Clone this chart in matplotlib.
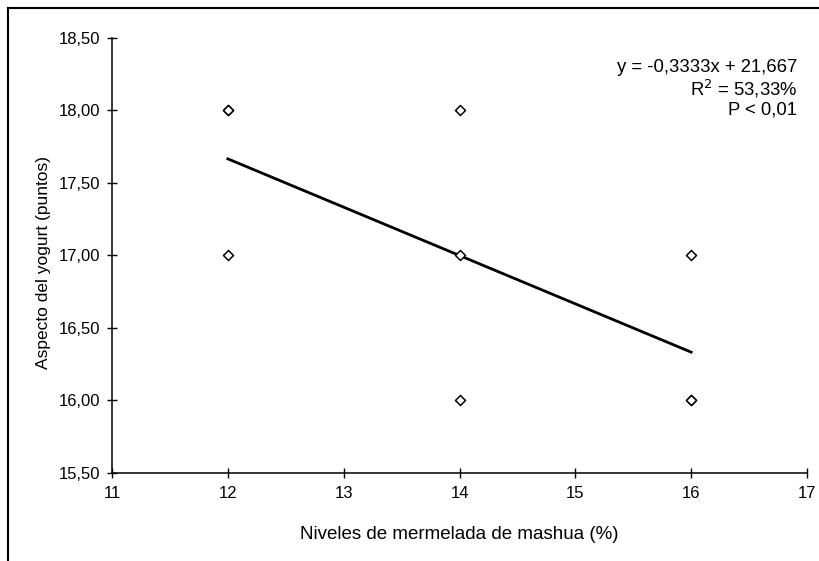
import matplotlib
matplotlib.use("Agg")
import matplotlib.pyplot as plt
from matplotlib.lines import Line2D
from matplotlib.ticker import FuncFormatter
import numpy as np

plt.rcParams['font.family'] = ['Liberation Sans', 'DejaVu Sans']

x_levels = [12, 12, 12, 14, 14, 14, 16, 16, 16]
aspecto = [18, 18, 17, 18, 17, 16, 17, 16, 16]
x_ticks = [11, 12, 13, 14, 15, 16, 17]
y_ticks = [15.5, 16.0, 16.5, 17.0, 17.5, 18.0, 18.5]
eq_lines = ["y = -0,3333x + 21,667", "R$^2$ = 53,33%", "P < 0,01"]

fig = plt.figure(figsize=(8.2, 5.61), dpi=100)
ax = fig.add_axes([112/820, 1-473/561, (807-112)/820, (473-38)/561])

ax.scatter(x_levels, aspecto, marker='D', s=26, facecolors='white',
           edgecolors='black', linewidths=1.1, zorder=3)

slope, intercept = np.polyfit(x_levels, aspecto, 1)
xf = np.array([min(x_levels), max(x_levels)])
ax.plot(xf, slope*xf + intercept, color='black', lw=2.0, zorder=2)

ax.set_xlim(11, 17)
ax.set_ylim(15.5, 18.5)
ax.set_xticks(x_ticks)
ax.set_yticks(y_ticks)
ax.yaxis.set_major_formatter(FuncFormatter(lambda v, p: f"{v:.2f}".replace('.', ',')))
ax.tick_params(direction='inout', length=7, width=1, labelsize=12, colors='black')
ax.tick_params(axis='y', pad=5)
ax.tick_params(axis='x', pad=6)
for s in ['top', 'right']:
    ax.spines[s].set_visible(False)
for s in ['left', 'bottom']:
    ax.spines[s].set_linewidth(1.1)

ax.set_xlabel("Niveles de mermelada de mashua (%)", fontsize=13.5, labelpad=18)
ax.set_ylabel("Aspecto del yogurt (puntos)", fontsize=12.5)
ax.yaxis.set_label_coords(-0.088, 0.483)

for i, t in enumerate(eq_lines):
    fig.text(797/820, 1-(68+21*i)/561, t, ha='right', va='center', fontsize=13.3)

fig.add_artist(Line2D([8/820, 8/820], [0, 1-8/561], color='black', lw=1.5, transform=fig.transFigure))
fig.add_artist(Line2D([8/820, 1], [1-8/561, 1-8/561], color='black', lw=1.5, transform=fig.transFigure))

fig.savefig("out.png", dpi=100)
